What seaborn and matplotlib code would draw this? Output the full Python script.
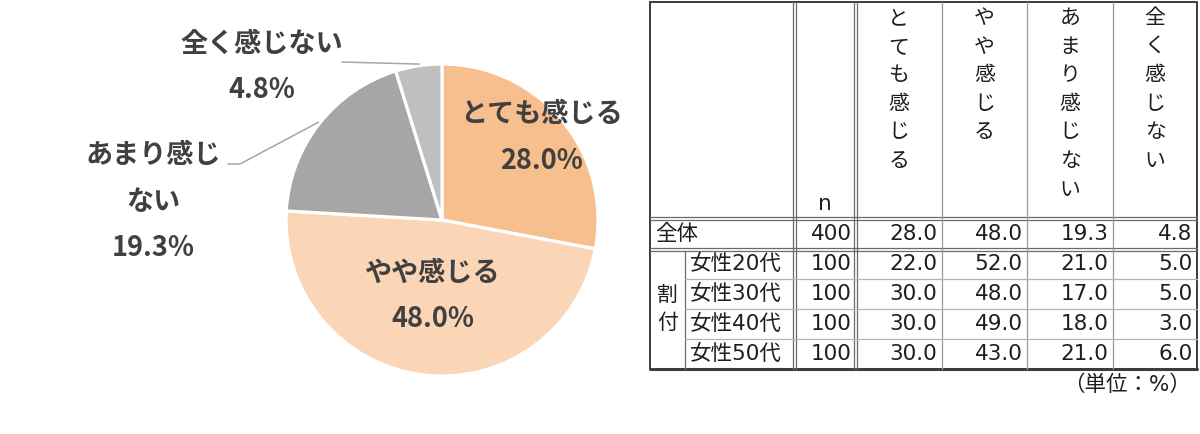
import numpy as np
import matplotlib
matplotlib.use("Agg")
import matplotlib.pyplot as plt
import seaborn as sns

# =========================================
# DATA
# =========================================
categories = ["とても感じる", "やや感じる", "あまり感じない", "全く感じない"]
shares = [28.0, 48.0, 19.3, 4.8]
pie_label_lines = [["とても感じる"], ["やや感じる"], ["あまり感じ", "ない"], ["全く感じない"]]

row_labels = ["全体", "女性20代", "女性30代", "女性40代", "女性50代"]
group_label = "割付"
n_values = [400, 100, 100, 100, 100]
table_values = [
    [28.0, 48.0, 19.3, 4.8],
    [22.0, 52.0, 21.0, 5.0],
    [30.0, 48.0, 17.0, 5.0],
    [30.0, 49.0, 18.0, 3.0],
    [30.0, 43.0, 21.0, 6.0],
]
unit_text = "（単位：%）"

# =========================================
# STYLE
# =========================================
sns.set_theme(style="white")
plt.rcParams["font.family"] = ["Noto Sans CJK JP", "DejaVu Sans"]
table_family = ["DejaVu Sans", "Noto Sans CJK JP"]

colors = sns.color_palette(["#F7BE8E", "#FBD6B6", "#A6A6A6", "#BFBFBF"])
label_color = "#404040"
text_color = "#1E1E1E"

W, H = 1200, 434
fig = plt.figure(figsize=(W / 100, H / 100), dpi=100)

# pie geometry (pixels, y down)
cx, cy, R = 442, 220, 156
half = 160

axp = fig.add_axes([(cx - half) / W, (H - cy - half) / H, 2 * half / W, 2 * half / H])
axp.pie(shares, colors=colors, startangle=90, counterclock=False,
        wedgeprops=dict(edgecolor="white", linewidth=2.3))
axp.set_xlim(-half / R, half / R)
axp.set_ylim(-half / R, half / R)
axp.axis("off")

# overlay in pixel coordinates
ax = fig.add_axes([0, 0, 1, 1], zorder=5)
ax.set_xlim(0, W)
ax.set_ylim(H, 0)
ax.axis("off")
ax.patch.set_alpha(0)

# =========================================
# PIE LABELS
# =========================================
label_layout = {
    0: dict(kind="in", r=0.83),
    1: dict(kind="in", r=0.49),
    2: dict(kind="out", top=(153, 155), path=[(240, 164), (228, 164)]),
    3: dict(kind="out", top=(262, 44), path=[(342, 62)]),
}
line_gap = 46.5
cum = np.cumsum([0] + shares[:-1])
for i, (lines, share) in enumerate(zip(pie_label_lines, shares)):
    theta = np.deg2rad(90 - 360 * (cum[i] + share / 2) / 100)
    texts = lines + [f"{share:.1f}%"]
    lay = label_layout[i]
    if lay["kind"] == "in":
        bx = cx + lay["r"] * R * np.cos(theta)
        by = cy - lay["r"] * R * np.sin(theta)
        y0 = by - line_gap * (len(texts) - 1) / 2
        tx = bx
    else:
        tx, y0 = lay["top"]
        ex = cx + 1.01 * R * np.cos(theta)
        ey = cy - 1.01 * R * np.sin(theta)
        pts = [(ex, ey)] + lay["path"]
        ax.plot([p[0] for p in pts], [p[1] for p in pts], color="#A6A6A6", lw=1.1)
    for k, t in enumerate(texts):
        ax.text(tx, y0 + k * line_gap, t, ha="center", va="center",
                fontsize=19.5, fontweight="bold", color=label_color)

# =========================================
# TABLE
# =========================================
L, SUB, C1, C2, R_ = 650, 685, 794.5, 855.5, 1197
data_x = [C2, 942, 1027, 1113, R_]
T, H1, H2, B = 2, 218, 249, 369
row_y = [H2, 279, 309, 339, B]

dark = "#3C3C3C"
mid = "#6A6A6A"
light = "#B4B4B4"

# outer border
ax.plot([L, R_, R_, L, L], [T, T, B, B, T], color=dark, lw=1.4)
ax.plot([L, R_], [B, B], color=dark, lw=2.2)
# double horizontal lines
for y in (H1, H2):
    for d in (-1.5, 1.5):
        ax.plot([L, R_], [y + d, y + d], color=mid, lw=0.9)
# double vertical lines
for x in (C1, C2):
    for d in (-1.5, 1.5):
        ax.plot([x + d, x + d], [T, B], color=mid, lw=0.9)
# single data column lines
for x in data_x[1:-1]:
    ax.plot([x, x], [T, B], color="#9A9A9A", lw=0.9)
# group column line
ax.plot([SUB, SUB], [H2 + 1.5, B], color=mid, lw=0.9)
# row separators within group
for y in row_y[1:-1]:
    ax.plot([SUB, R_], [y, y], color=light, lw=0.9)

tfs = 15.5
# header (vertical text)
for j, name in enumerate(categories):
    xc = (data_x[j] + data_x[j + 1]) / 2
    for k, ch in enumerate(name):
        ax.text(xc, 18 + 28.6 * k, ch, ha="center", va="center", fontsize=15, color=text_color)
ax.text((C1 + C2) / 2, 204, "n", ha="center", va="center", fontsize=tfs,
        color=text_color, family=table_family)

# body
body_centers = [(H1 + H2) / 2] + [(row_y[k] + row_y[k + 1]) / 2 for k in range(4)]
for r, (lab, n, vals) in enumerate(zip(row_labels, n_values, table_values)):
    yc = body_centers[r]
    lx = L + 5 if r == 0 else SUB + 5
    ax.text(lx, yc, lab, ha="left", va="center", fontsize=tfs, color=text_color,
            family=table_family)
    ax.text(C2 - 4, yc, str(n), ha="right", va="center", fontsize=tfs, color=text_color,
            family=table_family)
    for j, v in enumerate(vals):
        ax.text(data_x[j + 1] - 4.5, yc, f"{v:.1f}", ha="right", va="center",
                fontsize=tfs, color=text_color, family=table_family)
for k, ch in enumerate(group_label):
    ax.text((L + SUB) / 2, 295 + 28 * k, ch, ha="center", va="center", fontsize=15, color=text_color)

ax.text(1191, 385, unit_text, ha="right", va="center", fontsize=tfs, color=text_color,
        family=table_family)

fig.savefig("out.png", dpi=100, facecolor="white")
